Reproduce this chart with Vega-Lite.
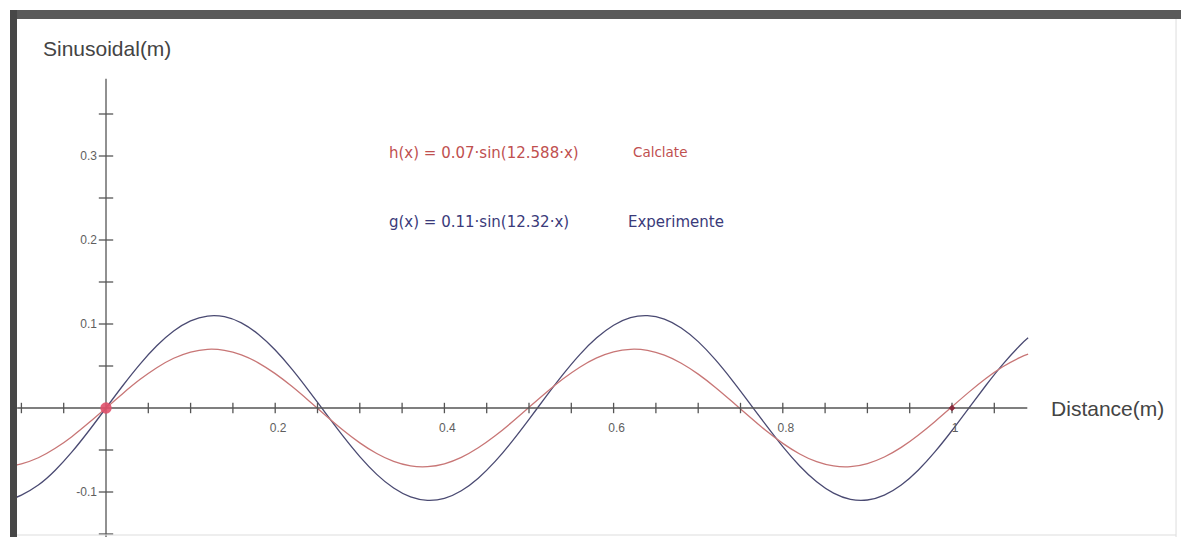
{
  "$schema": "https://vega.github.io/schema/vega-lite/v6.json",
  "width": 1171,
  "height": 527,
  "autosize": {"type": "none"},
  "padding": {"left": 10, "top": 10, "right": 0, "bottom": 0},
  "background": "#ffffff",
  "config": {"view": {"stroke": null}},
  "datasets": {
    "curves": [
      {"x": -0.11, "y": -0.1075, "s": "g"}, {"x": -0.10, "y": -0.1037, "s": "g"}, {"x": -0.08, "y": -0.0917, "s": "g"}, {"x": -0.06, "y": -0.0741, "s": "g"}, {"x": -0.04, "y": -0.0520, "s": "g"}, {"x": -0.02, "y": -0.0268, "s": "g"}, {"x": 0.00, "y": 0.0, "s": "g"}, {"x": 0.02, "y": 0.0268, "s": "g"}, {"x": 0.04, "y": 0.0520, "s": "g"}, {"x": 0.06, "y": 0.0741, "s": "g"}, {"x": 0.08, "y": 0.0917, "s": "g"}, {"x": 0.10, "y": 0.1037, "s": "g"}, {"x": 0.12, "y": 0.1095, "s": "g"}, {"x": 0.14, "y": 0.1087, "s": "g"}, {"x": 0.16, "y": 0.1013, "s": "g"}, {"x": 0.18, "y": 0.0878, "s": "g"}, {"x": 0.20, "y": 0.0690, "s": "g"}, {"x": 0.22, "y": 0.0460, "s": "g"}, {"x": 0.24, "y": 0.0202, "s": "g"}, {"x": 0.26, "y": -0.0068, "s": "g"}, {"x": 0.28, "y": -0.0333, "s": "g"}, {"x": 0.30, "y": -0.0579, "s": "g"}, {"x": 0.32, "y": -0.0790, "s": "g"}, {"x": 0.34, "y": -0.0953, "s": "g"}, {"x": 0.36, "y": -0.1058, "s": "g"}, {"x": 0.38, "y": -0.1099, "s": "g"}, {"x": 0.40, "y": -0.1075, "s": "g"}, {"x": 0.42, "y": -0.0985, "s": "g"}, {"x": 0.44, "y": -0.0835, "s": "g"}, {"x": 0.46, "y": -0.0636, "s": "g"}, {"x": 0.48, "y": -0.0397, "s": "g"}, {"x": 0.50, "y": -0.0135, "s": "g"}, {"x": 0.52, "y": 0.0135, "s": "g"}, {"x": 0.54, "y": 0.0397, "s": "g"}, {"x": 0.56, "y": 0.0636, "s": "g"}, {"x": 0.58, "y": 0.0835, "s": "g"}, {"x": 0.60, "y": 0.0985, "s": "g"}, {"x": 0.62, "y": 0.1075, "s": "g"}, {"x": 0.64, "y": 0.1099, "s": "g"}, {"x": 0.66, "y": 0.1058, "s": "g"}, {"x": 0.68, "y": 0.0953, "s": "g"}, {"x": 0.70, "y": 0.0790, "s": "g"}, {"x": 0.72, "y": 0.0579, "s": "g"}, {"x": 0.74, "y": 0.0333, "s": "g"}, {"x": 0.76, "y": 0.0068, "s": "g"}, {"x": 0.78, "y": -0.0202, "s": "g"}, {"x": 0.80, "y": -0.0460, "s": "g"}, {"x": 0.82, "y": -0.0690, "s": "g"}, {"x": 0.84, "y": -0.0878, "s": "g"}, {"x": 0.86, "y": -0.1013, "s": "g"}, {"x": 0.88, "y": -0.1087, "s": "g"}, {"x": 0.90, "y": -0.1095, "s": "g"}, {"x": 0.92, "y": -0.1037, "s": "g"}, {"x": 0.94, "y": -0.0917, "s": "g"}, {"x": 0.96, "y": -0.0741, "s": "g"}, {"x": 0.98, "y": -0.0520, "s": "g"}, {"x": 1.00, "y": -0.0268, "s": "g"}, {"x": 1.02, "y": 0.0, "s": "g"}, {"x": 1.04, "y": 0.0268, "s": "g"}, {"x": 1.06, "y": 0.0520, "s": "g"}, {"x": 1.08, "y": 0.0741, "s": "g"}, {"x": 1.09, "y": 0.0835, "s": "g"},
      {"x": -0.11, "y": -0.0688, "s": "h"}, {"x": -0.10, "y": -0.0666, "s": "h"}, {"x": -0.08, "y": -0.0592, "s": "h"}, {"x": -0.06, "y": -0.0480, "s": "h"}, {"x": -0.04, "y": -0.0338, "s": "h"}, {"x": -0.02, "y": -0.0174, "s": "h"}, {"x": 0.00, "y": 0.0, "s": "h"}, {"x": 0.02, "y": 0.0174, "s": "h"}, {"x": 0.04, "y": 0.0338, "s": "h"}, {"x": 0.06, "y": 0.0480, "s": "h"}, {"x": 0.08, "y": 0.0592, "s": "h"}, {"x": 0.10, "y": 0.0666, "s": "h"}, {"x": 0.12, "y": 0.0699, "s": "h"}, {"x": 0.14, "y": 0.0687, "s": "h"}, {"x": 0.16, "y": 0.0632, "s": "h"}, {"x": 0.18, "y": 0.0538, "s": "h"}, {"x": 0.20, "y": 0.0409, "s": "h"}, {"x": 0.22, "y": 0.0255, "s": "h"}, {"x": 0.24, "y": 0.0084, "s": "h"}, {"x": 0.26, "y": -0.0092, "s": "h"}, {"x": 0.28, "y": -0.0262, "s": "h"}, {"x": 0.30, "y": -0.0415, "s": "h"}, {"x": 0.32, "y": -0.0542, "s": "h"}, {"x": 0.34, "y": -0.0636, "s": "h"}, {"x": 0.36, "y": -0.0689, "s": "h"}, {"x": 0.38, "y": -0.0698, "s": "h"}, {"x": 0.40, "y": -0.0664, "s": "h"}, {"x": 0.42, "y": -0.0588, "s": "h"}, {"x": 0.44, "y": -0.0474, "s": "h"}, {"x": 0.46, "y": -0.0331, "s": "h"}, {"x": 0.48, "y": -0.0167, "s": "h"}, {"x": 0.50, "y": 0.0008, "s": "h"}, {"x": 0.52, "y": 0.0182, "s": "h"}, {"x": 0.54, "y": 0.0344, "s": "h"}, {"x": 0.56, "y": 0.0485, "s": "h"}, {"x": 0.58, "y": 0.0596, "s": "h"}, {"x": 0.60, "y": 0.0668, "s": "h"}, {"x": 0.62, "y": 0.0699, "s": "h"}, {"x": 0.64, "y": 0.0686, "s": "h"}, {"x": 0.66, "y": 0.0629, "s": "h"}, {"x": 0.68, "y": 0.0533, "s": "h"}, {"x": 0.70, "y": 0.0403, "s": "h"}, {"x": 0.72, "y": 0.0248, "s": "h"}, {"x": 0.74, "y": 0.0077, "s": "h"}, {"x": 0.76, "y": -0.0099, "s": "h"}, {"x": 0.78, "y": -0.0269, "s": "h"}, {"x": 0.80, "y": -0.0421, "s": "h"}, {"x": 0.82, "y": -0.0547, "s": "h"}, {"x": 0.84, "y": -0.0639, "s": "h"}, {"x": 0.86, "y": -0.0690, "s": "h"}, {"x": 0.88, "y": -0.0698, "s": "h"}, {"x": 0.90, "y": -0.0661, "s": "h"}, {"x": 0.92, "y": -0.0583, "s": "h"}, {"x": 0.94, "y": -0.0469, "s": "h"}, {"x": 0.96, "y": -0.0324, "s": "h"}, {"x": 0.98, "y": -0.0160, "s": "h"}, {"x": 1.00, "y": 0.0015, "s": "h"}, {"x": 1.02, "y": 0.0189, "s": "h"}, {"x": 1.04, "y": 0.0351, "s": "h"}, {"x": 1.06, "y": 0.0491, "s": "h"}, {"x": 1.08, "y": 0.0600, "s": "h"}, {"x": 1.09, "y": 0.0640, "s": "h"}
    ],
    "xticks": [
      {"v": -0.1}, {"v": -0.05}, {"v": 0.05}, {"v": 0.1}, {"v": 0.15}, {"v": 0.2}, {"v": 0.25}, {"v": 0.3}, {"v": 0.35}, {"v": 0.4}, {"v": 0.45}, {"v": 0.5}, {"v": 0.55}, {"v": 0.6}, {"v": 0.65}, {"v": 0.7}, {"v": 0.75}, {"v": 0.8}, {"v": 0.85}, {"v": 0.9}, {"v": 0.95}, {"v": 1.0}, {"v": 1.05}
    ],
    "yticks": [
      {"v": -0.15}, {"v": -0.1}, {"v": -0.05}, {"v": 0.05}, {"v": 0.1}, {"v": 0.15}, {"v": 0.2}, {"v": 0.25}, {"v": 0.3}, {"v": 0.35}
    ],
    "xlabels": [
      {"v": 0.2, "label": "0.2"}, {"v": 0.4, "label": "0.4"}, {"v": 0.6, "label": "0.6"}, {"v": 0.8, "label": "0.8"}, {"v": 1.0, "label": "1"}
    ],
    "ylabels": [
      {"v": -0.1, "label": "-0.1"}, {"v": 0.1, "label": "0.1"}, {"v": 0.2, "label": "0.2"}, {"v": 0.3, "label": "0.3"}
    ]
  },
  "layer": [
    {
      "data": {"name": "curves"},
      "mark": {"type": "line", "interpolate": "natural", "clip": true, "strokeWidth": 1.3},
      "encoding": {
        "x": {"field": "x", "type": "quantitative", "scale": {"domain": [-0.11348, 1.27069], "nice": false, "zero": false}, "axis": null},
        "y": {"field": "y", "type": "quantitative", "scale": {"domain": [-0.15357, 0.47381], "nice": false, "zero": false}, "axis": null},
        "color": {"field": "s", "type": "nominal", "scale": {"domain": ["g", "h"], "range": ["#4a4a72", "#c87676"]}, "legend": null},
        "order": {"field": "x", "type": "quantitative"}
      }
    },
    {
      "data": {"values": [{}]},
      "mark": {"type": "rule", "color": "#555555", "strokeWidth": 1.3},
      "encoding": {
        "x": {"datum": -0.105, "type": "quantitative"},
        "x2": {"datum": 1.089},
        "y": {"datum": 0, "type": "quantitative"}
      }
    },
    {
      "data": {"values": [{}]},
      "mark": {"type": "rule", "color": "#555555", "strokeWidth": 1.3},
      "encoding": {
        "x": {"datum": 0, "type": "quantitative"},
        "y": {"datum": -0.1536, "type": "quantitative"},
        "y2": {"datum": 0.392}
      }
    },
    {
      "data": {"name": "xticks"},
      "mark": {"type": "rule", "color": "#555555", "strokeWidth": 1.3},
      "encoding": {
        "x": {"field": "v", "type": "quantitative"},
        "y": {"datum": -0.0062, "type": "quantitative"},
        "y2": {"datum": 0.0062}
      }
    },
    {
      "data": {"name": "yticks"},
      "mark": {"type": "rule", "color": "#555555", "strokeWidth": 1.3},
      "encoding": {
        "y": {"field": "v", "type": "quantitative"},
        "x": {"datum": -0.0085, "type": "quantitative"},
        "x2": {"datum": 0.0085}
      }
    },
    {
      "data": {"name": "xlabels"},
      "mark": {"type": "text", "font": "Liberation Sans", "fontSize": 12, "color": "#5e5e5e", "align": "center", "baseline": "middle", "dy": 20, "dx": 3},
      "encoding": {
        "x": {"field": "v", "type": "quantitative"},
        "y": {"datum": 0, "type": "quantitative"},
        "text": {"field": "label"}
      }
    },
    {
      "data": {"name": "ylabels"},
      "mark": {"type": "text", "font": "Liberation Sans", "fontSize": 12, "color": "#5e5e5e", "align": "right", "baseline": "middle", "dx": -9},
      "encoding": {
        "y": {"field": "v", "type": "quantitative"},
        "x": {"datum": 0, "type": "quantitative"},
        "text": {"field": "label"}
      }
    },
    {
      "data": {"values": [{}]},
      "mark": {"type": "point", "filled": true, "shape": "circle", "size": 130, "color": "#e0506a", "opacity": 0.9},
      "encoding": {
        "x": {"datum": 0, "type": "quantitative"},
        "y": {"datum": 0, "type": "quantitative"}
      }
    },
    {
      "data": {"values": [{}]},
      "mark": {"type": "point", "filled": true, "shape": "diamond", "size": 45, "color": "#8a2a3c", "opacity": 1},
      "encoding": {
        "x": {"datum": 1, "type": "quantitative"},
        "y": {"datum": 0, "type": "quantitative"}
      }
    },
    {
      "data": {"values": [{}]},
      "mark": {"type": "rect", "color": "#5a5a5a"},
      "encoding": {
        "x": {"datum": -0.11348, "type": "quantitative"},
        "x2": {"datum": 1.27069},
        "y": {"datum": 0.47381, "type": "quantitative"},
        "y2": {"datum": 0.4631}
      }
    },
    {
      "data": {"values": [{}]},
      "mark": {"type": "rect", "color": "#474747"},
      "encoding": {
        "x": {"datum": -0.11348, "type": "quantitative"},
        "x2": {"datum": -0.1052},
        "y": {"datum": 0.47381, "type": "quantitative"},
        "y2": {"datum": -0.15357}
      }
    },
    {
      "data": {"values": [{}]},
      "mark": {"type": "rule", "color": "#dddddd", "strokeWidth": 1},
      "encoding": {
        "x": {"datum": 1.2648, "type": "quantitative"},
        "y": {"datum": 0.4631, "type": "quantitative"},
        "y2": {"datum": -0.15357}
      }
    },
    {
      "data": {"values": [{}]},
      "mark": {"type": "rule", "color": "#dddddd", "strokeWidth": 1},
      "encoding": {
        "x": {"datum": -0.1052, "type": "quantitative"},
        "x2": {"datum": 1.2648},
        "y": {"datum": -0.1512, "type": "quantitative"}
      }
    },
    {
      "data": {"values": [{}]},
      "mark": {"type": "text", "font": "Liberation Sans", "fontSize": 21, "color": "#444444", "align": "left", "baseline": "middle"},
      "encoding": {
        "x": {"datum": -0.0745, "type": "quantitative"},
        "y": {"datum": 0.4262, "type": "quantitative"},
        "text": {"value": "Sinusoidal(m)"}
      }
    },
    {
      "data": {"values": [{}]},
      "mark": {"type": "text", "font": "Liberation Sans", "fontSize": 21, "color": "#444444", "align": "left", "baseline": "middle"},
      "encoding": {
        "x": {"datum": 1.1171, "type": "quantitative"},
        "y": {"datum": -0.0024, "type": "quantitative"},
        "text": {"value": "Distance(m)"}
      }
    },
    {
      "data": {"values": [{}]},
      "mark": {"type": "text", "font": "DejaVu Sans", "fontSize": 15, "color": "#c0504f", "align": "left", "baseline": "middle"},
      "encoding": {
        "x": {"datum": 0.3345, "type": "quantitative"},
        "y": {"datum": 0.3036, "type": "quantitative"},
        "text": {"value": "h(x) = 0.07·sin(12.588·x)"}
      }
    },
    {
      "data": {"values": [{}]},
      "mark": {"type": "text", "font": "DejaVu Sans", "fontSize": 13.5, "color": "#c0504f", "align": "left", "baseline": "middle"},
      "encoding": {
        "x": {"datum": 0.6229, "type": "quantitative"},
        "y": {"datum": 0.3036, "type": "quantitative"},
        "text": {"value": "Calclate"}
      }
    },
    {
      "data": {"values": [{}]},
      "mark": {"type": "text", "font": "DejaVu Sans", "fontSize": 15, "color": "#3a3a7a", "align": "left", "baseline": "middle"},
      "encoding": {
        "x": {"datum": 0.3345, "type": "quantitative"},
        "y": {"datum": 0.2214, "type": "quantitative"},
        "text": {"value": "g(x) = 0.11·sin(12.32·x)"}
      }
    },
    {
      "data": {"values": [{}]},
      "mark": {"type": "text", "font": "DejaVu Sans", "fontSize": 15, "color": "#3a3a7a", "align": "left", "baseline": "middle"},
      "encoding": {
        "x": {"datum": 0.6170, "type": "quantitative"},
        "y": {"datum": 0.2214, "type": "quantitative"},
        "text": {"value": "Experimente"}
      }
    }
  ]
}
